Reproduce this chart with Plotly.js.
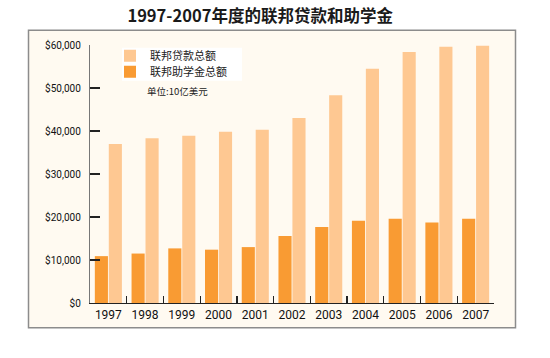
<!DOCTYPE html>
<html>
<head>
<meta charset="utf-8">
<script src="https://cdn.plot.ly/plotly-3.0.1.min.js"></script>
<style>html,body{margin:0;padding:0;background:#fff;}#chart{width:550px;height:358px;}</style>
</head>
<body>
<div id="chart"></div>
<script>
const years = ["1997","1998","1999","2000","2001","2002","2003","2004","2005","2006","2007"];
const loans = [37000, 38300, 38900, 39800, 40300, 43000, 48300, 54500, 58400, 59600, 59800];
const grants = [10900, 11500, 12700, 12400, 13000, 15600, 17700, 19100, 19600, 18700, 19600];
const seriesNames = ["联邦贷款总额", "联邦助学金总额"];
const titleText = "1997-2007年度的联邦贷款和助学金";
const unitText = "单位:10亿美元";

const narrow = "'Liberation Sans Narrow', Roboto, 'Liberation Sans', sans-serif";
const cjk = "'Noto Sans CJK SC', 'Noto Sans', sans-serif";

const traces = [
  {type: "bar", x: years, y: grants, name: seriesNames[1], marker: {color: "#f99b33"}, legend: "legend2"},
  {type: "bar", x: years, y: loans, name: seriesNames[0], marker: {color: "#fec892"}, legend: "legend"}
];

const L = 90, R = 494, T = 45.3, B = 303.3;
const pw = R - L, ph = B - T;
function px(x){ return (x - L) / pw; }
function py(y){ return (B - y) / ph; }

const legendBase = {
  xanchor: "left", yanchor: "middle",
  bgcolor: "rgba(0,0,0,0)", borderwidth: 0,
  font: {family: cjk, size: 11, color: "#222"},
  itemwidth: 30, tracegroupgap: 0
};

const layout = {
  width: 550, height: 358,
  margin: {l: L, r: 550 - R, t: T, b: 358 - B, pad: 0},
  paper_bgcolor: "#ffffff",
  plot_bgcolor: "rgba(0,0,0,0)",
  barmode: "group",
  bargap: 0.24,
  bargroupgap: 0.06,
  title: {text: titleText, font: {family: cjk, size: 16.5, color: "#1a1a1a", weight: "bold"}, x: 0.473, xanchor: "center", y: 0.955, yanchor: "middle"},
  xaxis: {
    type: "category",
    showgrid: false, zeroline: false,
    showline: true, linecolor: "#222", linewidth: 1.2,
    ticks: "inside", tickson: "boundaries", ticklen: 7, tickcolor: "#222", tickwidth: 1.2,
    tickangle: 0,
    tickfont: {family: narrow, size: 12, color: "#111"},
    fixedrange: true
  },
  yaxis: {
    range: [0, 60000],
    tickvals: [0, 10000, 20000, 30000, 40000, 50000, 60000],
    tickformat: "$,",
    showgrid: false, zeroline: false,
    showline: true, linecolor: "#777", linewidth: 1.2,
    ticks: "inside", ticklen: 10, tickcolor: "#222", tickwidth: 1.2,
    tickfont: {family: narrow, size: 10, color: "#111"},
    ticklabelstandoff: 6
  },
  showlegend: true,
  legend: Object.assign({}, legendBase, {x: px(110), y: py(56)}),
  legend2: Object.assign({}, legendBase, {x: px(110), y: py(72)}),
  annotations: [
    {text: unitText, xref: "paper", yref: "paper", x: px(145), y: py(91), xanchor: "left", yanchor: "middle", showarrow: false, font: {family: cjk, size: 9.5, color: "#222"}}
  ],
  shapes: [
    {type: "rect", xref: "paper", yref: "paper", x0: px(28.5), x1: px(515.5), y0: py(328), y1: py(30.5), fillcolor: "#fffaf1", line: {color: "#8c8c8c", width: 1.5}, layer: "below"},
    {type: "rect", xref: "paper", yref: "paper", x0: px(122), x1: px(242), y0: py(81), y1: py(48), fillcolor: "#ffffff", line: {width: 0}, layer: "below"}
  ]
};

Plotly.newPlot("chart", traces, layout, {displayModeBar: false, staticPlot: true});
</script>
</body>
</html>
